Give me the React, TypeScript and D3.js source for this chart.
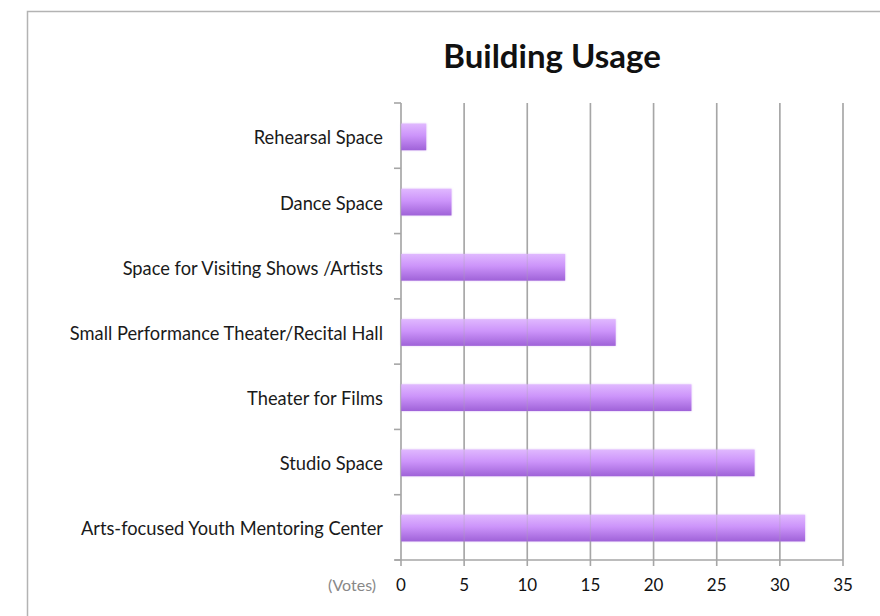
import React from "react";
import * as d3 from "d3";

const categories = [
  "Rehearsal Space",
  "Dance Space",
  "Space for Visiting Shows /Artists",
  "Small Performance Theater/Recital Hall",
  "Theater for Films",
  "Studio Space",
  "Arts-focused Youth Mentoring Center",
];
const votes = [2, 4, 13, 17, 23, 28, 32];
const xTicks = [0, 5, 10, 15, 20, 25, 30, 35];
const title = "Building Usage";
const axisUnit = "(Votes)";

export default function App() {
  const W = 880, H = 616;
  const left = 401, right = 843, top = 103, bottom = 560;
  const x = d3.scaleLinear().domain([0, 35]).range([left, right]);
  const y = d3.scaleBand().domain(categories).range([top, bottom]).paddingInner(0.59).paddingOuter(0.3);
  const yb = d3.scaleBand().domain(categories).range([top, bottom]);
  const font = "Lato, 'Open Sans', sans-serif";
  const grid = "#a6a6a6";
  return (
    <svg width={W} height={H} style={{ position: "absolute", left: 0, top: 0, background: "#fff" }} fontFamily={font}>
      <defs>
        <linearGradient id="barG" x1="0" y1="0" x2="0" y2="1">
          <stop offset="0" stopColor="#e0b8ff" />
          <stop offset="0.45" stopColor="#cc94fa" />
          <stop offset="1" stopColor="#9f62d8" />
        </linearGradient>
        <filter id="glow" x="-10%" y="-30%" width="120%" height="160%">
          <feGaussianBlur in="SourceGraphic" stdDeviation="0.8" />
        </filter>
      </defs>
      <rect x={27.5} y={11.5} width={W} height={H} fill="none" stroke="#b3b3b3" strokeWidth={1.5} />
      <text x={552} y={68} textAnchor="middle" fontSize={33} fontWeight={700} fill="#111">{title}</text>
      {xTicks.map((t) => (
        <line key={"g" + t} x1={x(t)} x2={x(t)} y1={top} y2={bottom + 6} stroke={grid} strokeWidth={1.6} />
      ))}
      <line x1={left - 6} x2={right} y1={bottom} y2={bottom} stroke={grid} strokeWidth={1.6} />
      {categories.map((c, i) => (
        <line key={"yt" + i} x1={left - 7} x2={left} y1={yb(c)!} y2={yb(c)!} stroke={grid} strokeWidth={1.6} />
      ))}
      <line x1={left - 7} x2={left} y1={bottom} y2={bottom} stroke={grid} strokeWidth={1.6} />
      {categories.map((c, i) => (
        <g key={"b" + i}>
          <rect x={x(0)} y={y(c)! + 1} width={x(votes[i]) - x(0)} height={y.bandwidth()} fill="#c89af0" opacity={0.5} filter="url(#glow)" />
          <rect x={x(0)} y={y(c)! + 1} width={x(votes[i]) - x(0)} height={y.bandwidth()} fill="url(#barG)" />
        </g>
      ))}
      {xTicks.map((t) => (
        <line key={"go" + t} x1={x(t)} x2={x(t)} y1={top} y2={bottom} stroke={grid} strokeWidth={1.2} opacity={0.3} />
      ))}
      {categories.map((c, i) => (
        <text key={"l" + i} x={383} y={y(c)! + y.bandwidth() / 2 + 2} dy="0.35em" textAnchor="end" fontSize={18.3} fill="#1a1a1a">{c}</text>
      ))}
      {xTicks.map((t) => (
        <text key={"t" + t} x={x(t)} y={591} textAnchor="middle" fontSize={17} fill="#111">{t}</text>
      ))}
      <text x={376} y={591} textAnchor="end" fontSize={16} fill="#888">{axisUnit}</text>
    </svg>
  );
}
